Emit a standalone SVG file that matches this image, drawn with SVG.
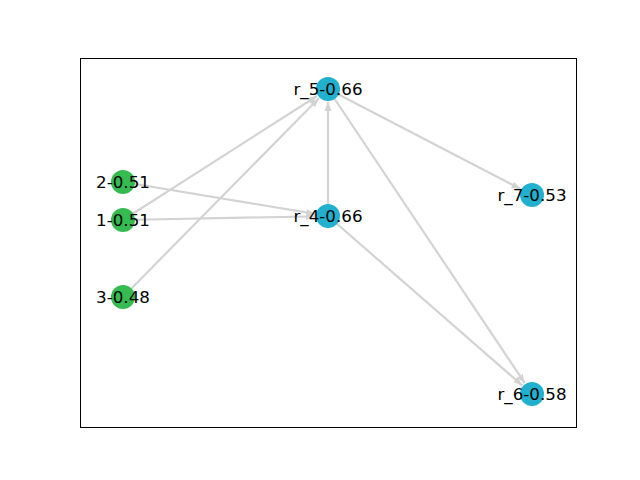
<svg xmlns="http://www.w3.org/2000/svg" width="640" height="480" viewBox="0 0 640 480">
<style>
.e{stroke:#d3d3d3;stroke-width:2.2;fill:none;marker-end:url(#ah)}
.g{fill:#35bb50}
.c{fill:#21b0cd}
text{font-family:"DejaVu Sans",sans-serif;font-size:16.7px;fill:#000;text-anchor:middle}
</style>
<defs>
<marker id="ah" markerUnits="userSpaceOnUse" markerWidth="10" markerHeight="8" refX="9" refY="4" orient="auto">
<path d="M0,0.5 L9,4 L0,7.5 z" fill="#d3d3d3"/>
</marker>
</defs>
<rect width="640" height="480" fill="#fff"/>
<rect x="80.5" y="58.5" width="496" height="369" fill="none" stroke="#000" stroke-width="1"/>
<g id="edges">
<line class="e" x1="123" y1="220" x2="317" y2="96"/>
<line class="e" x1="123" y1="297" x2="318.9" y2="98.2"/>
<line class="e" x1="123" y1="182" x2="315.2" y2="213.9"/>
<line class="e" x1="123" y1="220" x2="315" y2="216.3"/>
<line class="e" x1="328" y1="216" x2="328" y2="102"/>
<line class="e" x1="328" y1="89" x2="520.5" y2="189"/>
<line class="e" x1="328" y1="89" x2="524.8" y2="383.2"/>
<line class="e" x1="328" y1="216" x2="522.2" y2="385.4"/>
</g>
<g id="n2"><circle class="g" cx="123" cy="182" r="12"/><text x="123" y="188">2-0.51</text></g>
<g id="n1"><circle class="g" cx="123" cy="220" r="12"/><text x="123" y="226">1-0.51</text></g>
<g id="n3"><circle class="g" cx="123" cy="297" r="12"/><text x="123" y="303">3-0.48</text></g>
<g id="r5"><circle class="c" cx="328" cy="89" r="12"/><text x="328" y="95">r_5-0.66</text></g>
<g id="r4"><circle class="c" cx="328" cy="216" r="12"/><text x="328" y="222">r_4-0.66</text></g>
<g id="r7"><circle class="c" cx="532" cy="195" r="12"/><text x="532" y="201">r_7-0.53</text></g>
<g id="r6"><circle class="c" cx="532" cy="394" r="12"/><text x="532" y="400">r_6-0.58</text></g>
</svg>
